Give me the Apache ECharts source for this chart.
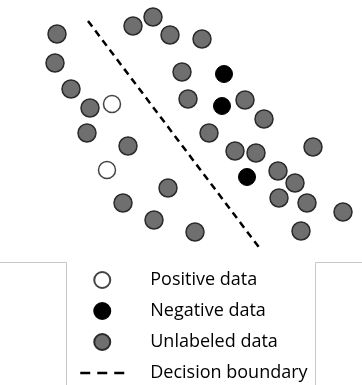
<!DOCTYPE html>
<html>
<head>
<meta charset="utf-8">
<style>
  html, body { margin: 0; padding: 0; background: #fff; }
  #chart { width: 362px; height: 385px; }
</style>
<script src="https://cdn.jsdelivr.net/npm/echarts@6/dist/echarts.min.js"></script>
</head>
<body>
<div id="chart"></div>
<script>
// point positions (x right, y down)
var positiveData = [[112, 104], [107, 170]]
var negativeData = [[224, 74], [222, 106], [247, 177]]
var unlabeledData = [
  [57, 34], [55, 63], [71, 89], [90, 108], [87, 133], [128, 146],
  [123, 203], [154, 220], [168, 188], [195, 232],
  [133, 26], [153, 17], [170, 35], [202, 39], [182, 72], [188, 99],
  [245, 100], [264, 119], [209, 133], [235, 151], [256, 153], [313, 147],
  [278, 171], [295, 183], [279, 198], [307, 203], [343, 212], [301, 231]
]
var boundaryData = [[88, 21], [261, 250]]
var legendNames = ['Positive data', 'Negative data', 'Unlabeled data', 'Decision boundary']

var chart = echarts.init(document.getElementById('chart'))

chart.setOption({
  animation: false,
  grid: { left: 0, right: 0, top: 0, bottom: 125 },
  xAxis: { type: 'value', min: 0, max: 362, show: false },
  yAxis: { type: 'value', min: 0, max: 260, inverse: true, show: false },
  legend: {
    orient: 'vertical',
    left: 79,
    top: 271,
    padding: 0,
    itemWidth: 44,
    itemHeight: 16,
    itemGap: 13,
    selectedMode: false,
    textStyle: {
      fontFamily: 'Open Sans',
      fontSize: 18,
      color: '#000',
      padding: [0, 0, 0, 21]
    },
    data: [
      { name: legendNames[0], icon: 'circle' },
      { name: legendNames[1], icon: 'circle' },
      { name: legendNames[2], icon: 'circle' },
      {
        name: legendNames[3],
        lineStyle: { type: [10, 7], width: 2.5, color: '#000' },
        itemStyle: { color: 'rgba(0,0,0,0)', borderColor: 'rgba(0,0,0,0)', borderWidth: 0, opacity: 0 }
      }
    ]
  },
  graphic: [
    {
      type: 'polyline',
      shape: { points: [[0, 262.5], [66.5, 262.5], [66.5, 385]] },
      style: { stroke: '#c8c8c8', lineWidth: 1, fill: null }
    },
    {
      type: 'polyline',
      shape: { points: [[315.5, 385], [315.5, 262.5], [362, 262.5]] },
      style: { stroke: '#c8c8c8', lineWidth: 1, fill: null }
    }
  ],
  series: [
    {
      name: legendNames[0],
      type: 'scatter',
      symbolSize: 17,
      data: positiveData,
      itemStyle: { color: '#fff', borderColor: '#444', borderWidth: 1.5, opacity: 1 }
    },
    {
      name: legendNames[1],
      type: 'scatter',
      symbolSize: 17,
      data: negativeData,
      itemStyle: { color: '#000', borderColor: '#000', borderWidth: 1, opacity: 1 }
    },
    {
      name: legendNames[2],
      type: 'scatter',
      symbolSize: 18,
      data: unlabeledData,
      itemStyle: { color: '#6f6f6f', borderColor: '#2a2a2a', borderWidth: 1.5, opacity: 1 }
    },
    {
      name: legendNames[3],
      type: 'line',
      symbol: 'none',
      data: boundaryData,
      itemStyle: { color: '#000' },
      lineStyle: { color: '#000', width: 2.5, type: [7, 5] }
    }
  ]
})
</script>
</body>
</html>
